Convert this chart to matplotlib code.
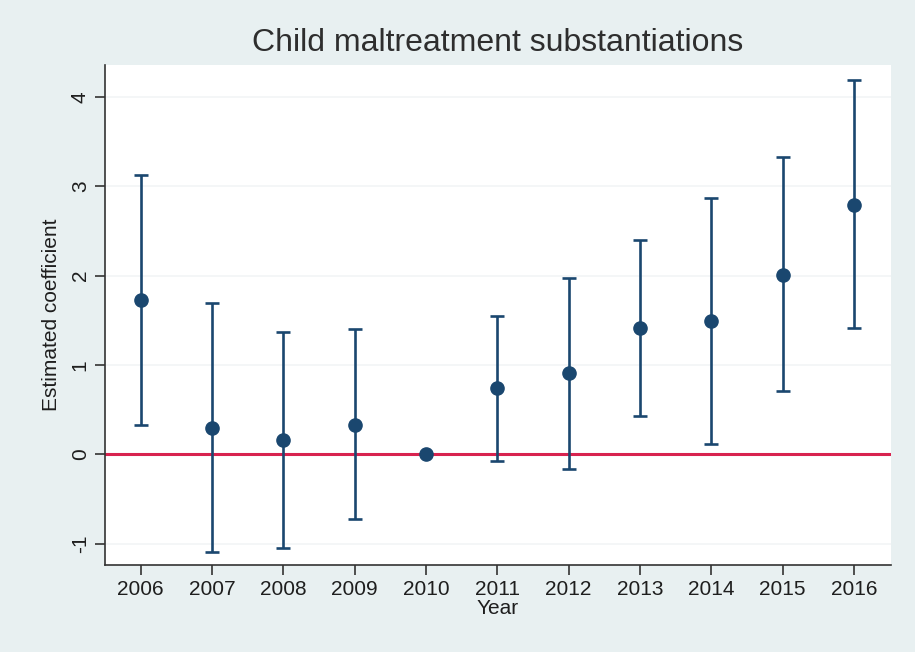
import matplotlib.pyplot as plt
import numpy as np

plt.rcParams['font.family'] = ['Liberation Sans', 'DejaVu Sans']

years = [2006, 2007, 2008, 2009, 2010, 2011, 2012, 2013, 2014, 2015, 2016]
coef = [1.73, 0.30, 0.16, 0.33, 0.0, 0.74, 0.91, 1.41, 1.49, 2.01, 2.79]
ci_low = [0.33, -1.09, -1.05, -0.73, np.nan, -0.07, -0.17, 0.43, 0.12, 0.71, 1.41]
ci_high = [3.13, 1.70, 1.37, 1.40, np.nan, 1.55, 1.98, 2.40, 2.87, 3.33, 4.19]
yticks = [-1, 0, 1, 2, 3, 4]

navy = '#1a476f'
bg = '#e8f0f1'

fig = plt.figure(figsize=(9.15, 6.52), dpi=100, facecolor=bg)
ax = fig.add_axes([0.1148, 0.1334, 0.859, 0.7669])
ax.set_facecolor('white')

# confidence intervals, skipping the reference year
coef_a = np.array(coef)
lo = coef_a - np.array(ci_low)
hi = np.array(ci_high) - coef_a
ax.errorbar(years, coef, yerr=[lo, hi], fmt='none', ecolor=navy,
            elinewidth=1.9, capsize=5, capthick=1.9, zorder=3)
ax.axhline(0, color='#d8234f', lw=2.2, zorder=2)
ax.plot(years, coef, 'o', color=navy, markersize=9.5, zorder=4)

ax.set_xlim(2005.5, 2016.52)
ax.set_ylim(-1.24, 4.36)
ax.set_xticks(years)
ax.set_yticks(yticks)
ax.set_yticklabels([str(t) for t in yticks], rotation=90, va='center')
ax.grid(axis='y', color='#f2f5f6', lw=1.2, zorder=0)

for s in ['top', 'right']:
    ax.spines[s].set_visible(False)
for s in ['left', 'bottom']:
    ax.spines[s].set_color('#333333')
    ax.spines[s].set_linewidth(1.2)
ax.tick_params(direction='out', length=7, width=1.2, color='#333333',
               labelsize=15, labelcolor='#1e1e1e', pad=4)

ax.set_title('Child maltreatment substantiations', fontsize=23, color='#2e2e2e', pad=10)
ax.set_xlabel('Year', fontsize=15, color='#1e1e1e', labelpad=0)
ax.set_ylabel('Estimated coefficient', fontsize=15, color='#1e1e1e', labelpad=7)

fig.savefig('out.png', dpi=100, facecolor=bg)
